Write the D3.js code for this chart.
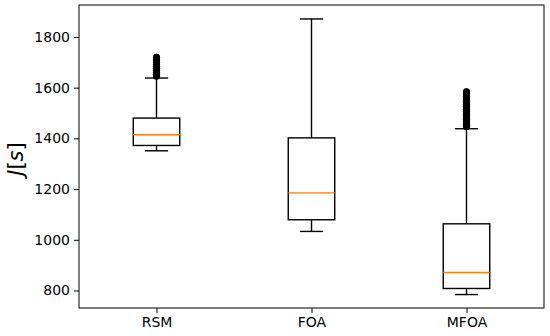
<!DOCTYPE html>
<html>
<head>
<meta charset="utf-8">
<script src="https://cdn.jsdelivr.net/npm/d3@7"></script>
<style>
	body { margin: 0; background: #fff; }
	text { font-family: "DejaVu Sans", sans-serif; }
</style>
</head>
<body>
<svg id="chart" width="550" height="336"></svg>
<script>
// box stats
var categories = ['RSM', 'FOA', 'MFOA'];
var whiskerLow = [1351, 1033, 784];
var q1 = [1372, 1079, 808];
var median = [1414, 1185, 871];
var q3 = [1480, 1402, 1063];
var whiskerHigh = [1638, 1871, 1438];
// fliers (dense, they merge into a solid stroke)
var fliersRSM = [1645, 1652, 1660, 1668, 1675, 1683, 1690, 1698, 1705, 1712, 1720];
var fliersFOA = [];
var fliersMFOA = [1446, 1455, 1465, 1475, 1485, 1495, 1505, 1515, 1525, 1535, 1545, 1555, 1565, 1575, 1584];
var fliers = [fliersRSM, fliersFOA, fliersMFOA];
var yTicks = [800, 1000, 1200, 1400, 1600, 1800];

var svg = d3.select('#chart');
var mLeft = 79, mRight = 544, mTop = 5, mBottom = 308;

var x = d3.scalePoint()
	.domain(categories)
	.range([mLeft, mRight])
	.padding(0.5);

var y = d3.scaleLinear()
	.domain([731, 1926])
	.range([mBottom, mTop]);

var boxW = x.step() * 0.3;
var capW = boxW / 2;

var g = svg.append('g');

categories.forEach(function(c, i) {
	var cx = x(c);

	// whiskers
	g.append('line')
		.attr('x1', cx).attr('x2', cx)
		.attr('y1', y(q3[i])).attr('y2', y(whiskerHigh[i]))
		.attr('stroke', '#000').attr('stroke-width', 1.4);
	g.append('line')
		.attr('x1', cx).attr('x2', cx)
		.attr('y1', y(q1[i])).attr('y2', y(whiskerLow[i]))
		.attr('stroke', '#000').attr('stroke-width', 1.4);

	// caps
	[whiskerLow[i], whiskerHigh[i]].forEach(function(v) {
		g.append('line')
			.attr('x1', cx - capW / 2).attr('x2', cx + capW / 2)
			.attr('y1', y(v)).attr('y2', y(v))
			.attr('stroke', '#000').attr('stroke-width', 1.4);
	});

	// box
	g.append('rect')
		.attr('x', cx - boxW / 2)
		.attr('y', y(q3[i]))
		.attr('width', boxW)
		.attr('height', y(q1[i]) - y(q3[i]))
		.style('fill', 'none')
		.attr('stroke', '#000')
		.attr('stroke-width', 1.4);

	// median
	g.append('line')
		.attr('x1', cx - boxW / 2).attr('x2', cx + boxW / 2)
		.attr('y1', y(median[i])).attr('y2', y(median[i]))
		.attr('stroke', '#ff7f0e').attr('stroke-width', 1.4);

	// fliers
	g.selectAll('circle.f' + i)
		.data(fliers[i])
		.enter().append('circle')
		.attr('class', 'f' + i)
		.attr('cx', cx)
		.attr('cy', function(d) { return y(d); })
		.attr('r', 3.2)
		.style('fill', '#000')
		.attr('stroke', '#000')
		.attr('stroke-width', 1);
});

// frame
svg.append('rect')
	.attr('x', mLeft).attr('y', mTop)
	.attr('width', mRight - mLeft).attr('height', mBottom - mTop)
	.style('fill', 'none')
	.attr('stroke', '#000')
	.attr('stroke-width', 1);

var yAxis = svg.append('g')
	.attr('transform', 'translate(' + mLeft + ',0)')
	.call(d3.axisLeft(y).tickValues(yTicks).tickSize(5).tickPadding(4).tickFormat(d3.format('d')));
var xAxis = svg.append('g')
	.attr('transform', 'translate(0,' + mBottom + ')')
	.call(d3.axisBottom(x).tickSize(5).tickPadding(4));

[yAxis, xAxis].forEach(function(a) {
	a.select('.domain').remove();
	a.selectAll('text').style('font-size', '14px').style('fill', '#000');
	a.selectAll('line').attr('stroke', '#000');
});

// y label
var lab = svg.append('text')
	.attr('transform', 'translate(23,159) rotate(-90)')
	.attr('text-anchor', 'middle')
	.style('font-size', '21px')
	.style('fill', '#000');
lab.append('tspan').style('font-style', 'italic').text('J');
lab.append('tspan').text('[');
lab.append('tspan').style('font-style', 'italic').text('s');
lab.append('tspan').text(']');
</script>
</body>
</html>
